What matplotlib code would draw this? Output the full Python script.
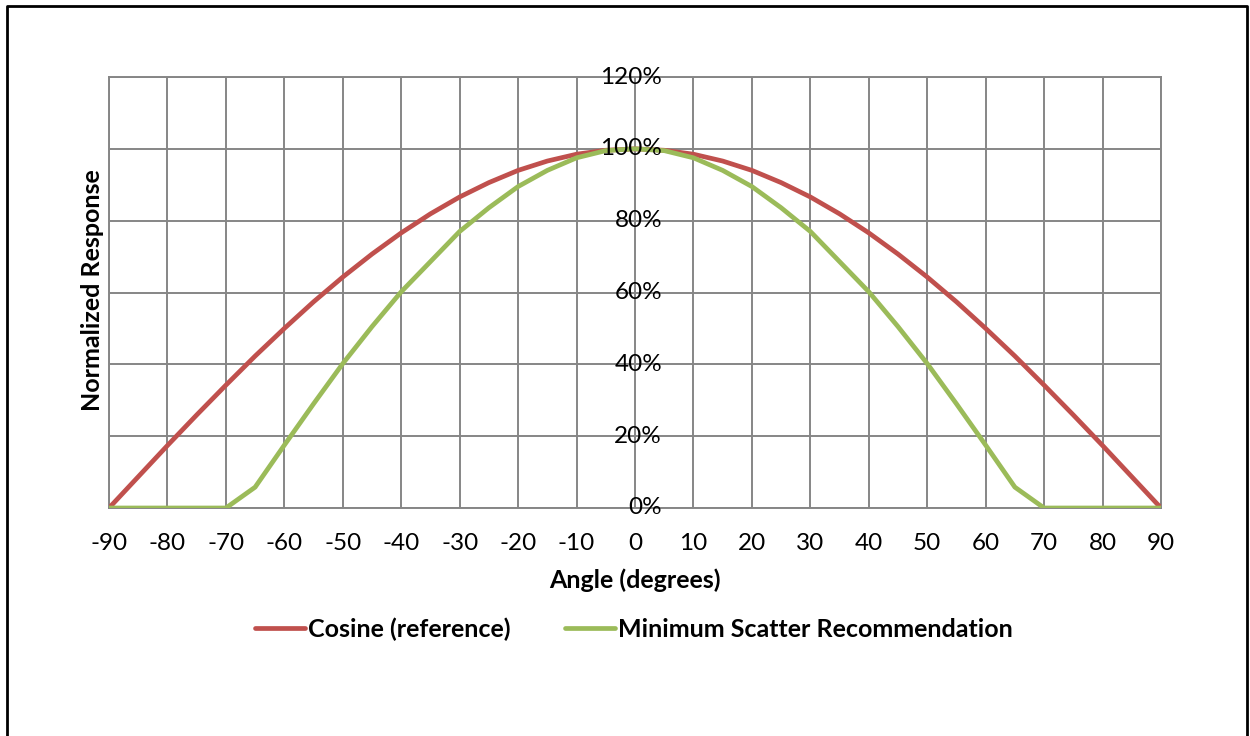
import matplotlib
matplotlib.use("Agg")
import matplotlib.pyplot as plt
from matplotlib.lines import Line2D

plt.rcParams["font.family"] = ["Lato", "DejaVu Sans"]

angles = [-90, -85, -80, -75, -70, -65, -60, -55, -50, -45, -40, -35, -30,
          -25, -20, -15, -10, -5, 0, 5, 10, 15, 20, 25, 30, 35, 40, 45, 50,
          55, 60, 65, 70, 75, 80, 85, 90]
cosine_ref = [0.000, 0.087, 0.174, 0.259, 0.342, 0.423, 0.500, 0.574, 0.643,
              0.707, 0.766, 0.819, 0.866, 0.906, 0.940, 0.966, 0.985, 0.996,
              1.000, 0.996, 0.985, 0.966, 0.940, 0.906, 0.866, 0.819, 0.766,
              0.707, 0.643, 0.574, 0.500, 0.423, 0.342, 0.259, 0.174, 0.087,
              0.000]
min_scatter = [0.000, 0.000, 0.000, 0.000, 0.000, 0.058, 0.175, 0.290, 0.402,
               0.505, 0.602, 0.686, 0.770, 0.836, 0.895, 0.940, 0.975, 0.995,
               1.000, 0.995, 0.975, 0.940, 0.895, 0.836, 0.770, 0.686, 0.602,
               0.505, 0.402, 0.290, 0.175, 0.058, 0.000, 0.000, 0.000, 0.000,
               0.000]
x_ticks = list(range(-90, 91, 10))
y_ticks = [0.0, 0.2, 0.4, 0.6, 0.8, 1.0, 1.2]

RED = "#C0504D"
GREEN = "#9BBB59"
GRID = "#868686"
FS = 17.5
FSB = 18

fig = plt.figure(figsize=(12.5, 7.36), dpi=100)
ax = fig.add_axes([109 / 1250, 1 - 508 / 736, 1052 / 1250, 431 / 736])

ax.plot(angles, cosine_ref, color=RED, lw=3.4, label="Cosine (reference)",
        solid_joinstyle="round", zorder=3)
ax.plot(angles, min_scatter, color=GREEN, lw=3.4,
        label="Minimum Scatter Recommendation", solid_joinstyle="round",
        zorder=4)

ax.set_xlim(-90, 90)
ax.set_ylim(0, 1.2)
ax.set_xticks(x_ticks)
ax.set_xticklabels([str(t) for t in x_ticks], fontsize=FS)
ax.set_yticks(y_ticks)
ax.set_yticklabels([])
ax.tick_params(length=0, pad=18)
ax.grid(True, color=GRID, lw=1.4)
ax.set_axisbelow(True)
for s in ax.spines.values():
    s.set_color(GRID)
    s.set_linewidth(1.4)

# y tick labels sit beside the vertical axis at x = 0
for v in y_ticks:
    ax.annotate(f"{int(round(v * 100))}%", xy=(0, v), xycoords="data",
                xytext=(27, 0), textcoords="offset pixels",
                ha="right", va="center", fontsize=FS, zorder=5)

# axis titles, placed as in the original chart
fig.text(635 / 1250, 1 - 580 / 736, "Angle (degrees)", fontsize=FSB,
         fontweight="bold", ha="center", va="center")
fig.text(92 / 1250, 1 - 290 / 736, "Normalized Response", fontsize=FSB,
         fontweight="bold", ha="center", va="center", rotation=90)

handles = [Line2D([], [], color=RED, lw=3.4, solid_capstyle="round"),
           Line2D([], [], color=GREEN, lw=3.4, solid_capstyle="round")]
fig.legend(handles, ["Cosine (reference)", "Minimum Scatter Recommendation"],
           loc="center", bbox_to_anchor=(634 / 1250, 1 - 629 / 736), ncol=2,
           frameon=False, prop={"size": FSB, "weight": "bold"},
           handlelength=2.0, handletextpad=0.12, columnspacing=2.2)

# outer chart border (bottom edge falls off the canvas)
fig.add_artist(Line2D([7 / 1250, 7 / 1250, 1247 / 1250, 1247 / 1250],
                      [-0.01, 1 - 6 / 736, 1 - 6 / 736, -0.01],
                      transform=fig.transFigure, color="black", lw=2))

fig.savefig("out.png", dpi=100)
